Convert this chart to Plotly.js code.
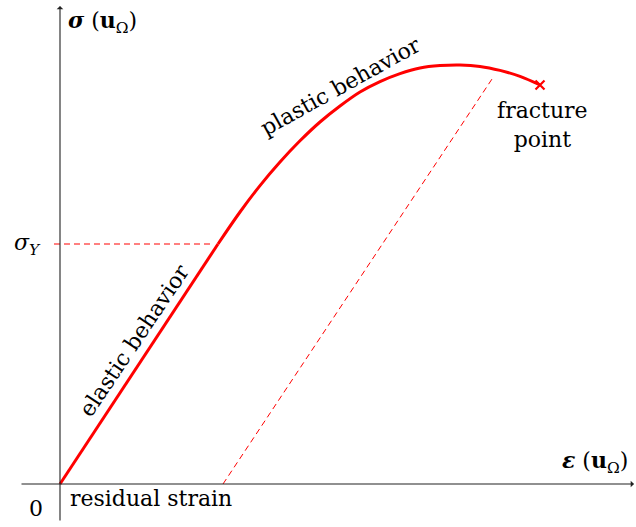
<!DOCTYPE html>
<html>
<head>
<meta charset="utf-8">
<script src="https://cdn.plot.ly/plotly-3.0.1.min.js"></script>
<style>
  html, body { margin: 0; padding: 0; background: #fff; }
  #chart { width: 636px; height: 527px; }
</style>
</head>
<body>
<div id="chart"></div>
<script>
// Stress–strain curve: linear elastic part up to the yield point,
// then a curved plastic part up to fracture.
const elasticStrain = [0, 3.95];
const elasticStress = [0, 6.0];

const plasticStrain = [3.95, 4.5, 5.0, 5.5, 6.0, 6.5, 7.0, 7.5, 8.0, 8.5, 9.0, 9.5, 10.0, 10.5, 11.0, 11.5, 12.0];
const plasticStress = [6.0, 6.80, 7.46, 8.05, 8.58, 9.05, 9.45, 9.80, 10.06, 10.26, 10.40, 10.46, 10.475, 10.44, 10.34, 10.19, 9.975];

const yieldStress = 6.0;
const yieldStrain = 3.85;        // end of the horizontal guide line
const residualStrain = 4.075;    // where unloading meets the strain axis
const unloadEnd = [10.85, 10.2]; // top of the unloading guide line

const fracture = [plasticStrain[plasticStrain.length - 1], plasticStress[plasticStress.length - 1]];

const xRange = [-1.5, 14.4];
const yRange = [-1.075, 12.1];
const axisStrainExtent = [-1.0, 14.35];
const axisStressExtent = [-0.95, 11.95];

const RED = '#ff0000';
const FONT = 'DejaVu Serif';

const traces = [
  { x: elasticStrain, y: elasticStress, mode: 'lines',
    line: { color: RED, width: 3 }, hoverinfo: 'skip' },
  { x: plasticStrain, y: plasticStress, mode: 'lines',
    line: { color: RED, width: 3, shape: 'spline', smoothing: 1 }, hoverinfo: 'skip' },
  // horizontal guide at the yield stress
  { x: [-0.15, yieldStrain], y: [yieldStress, yieldStress], mode: 'lines',
    line: { color: RED, width: 1, dash: '6px,4px' }, hoverinfo: 'skip' },
  // unloading path parallel to the elastic line
  { x: [residualStrain, unloadEnd[0]], y: [0, unloadEnd[1]], mode: 'lines',
    line: { color: RED, width: 1, dash: '6px,4px' }, hoverinfo: 'skip' },
  // fracture marker
  { x: [fracture[0]], y: [fracture[1]], mode: 'markers',
    marker: { symbol: 'x-thin', size: 9, line: { color: RED, width: 2.2 } }, hoverinfo: 'skip' }
];

const txt = (s, x, y, extra) => Object.assign({
  text: s, x: x, y: y, xref: 'x', yref: 'y', showarrow: false,
  font: { family: FONT, size: 22, color: '#000' }
}, extra || {});

const annotations = [
  // axes drawn as arrows
  { x: axisStrainExtent[1], y: 0, ax: axisStrainExtent[0], ay: 0, xref: 'x', yref: 'y', axref: 'x', ayref: 'y',
    showarrow: true, arrowhead: 1, arrowsize: 1, arrowwidth: 1.1, arrowcolor: '#222', text: '' },
  { x: 0, y: axisStressExtent[1], ax: 0, ay: axisStressExtent[0], xref: 'x', yref: 'y', axref: 'x', ayref: 'y',
    showarrow: true, arrowhead: 1, arrowsize: 1, arrowwidth: 1.1, arrowcolor: '#222', text: '' },

  txt('<b><i>σ</i></b> (<b>u</b><sub>Ω</sub>)', 0.15, 11.55, { xanchor: 'left' }),
  txt('<b><i>ε</i></b> (<b>u</b><sub>Ω</sub>)', 14.25, 0.55, { xanchor: 'right' }),
  txt('<i>σ</i><sub><i>Y</i></sub>', -0.825, 6.0),
  txt('0', -0.6, -0.6),
  txt('residual strain', 0.2, -0.35, { xanchor: 'left' }),
  txt('fracture<br>point', 12.05, 8.98, { align: 'center' }),
  txt('plastic behavior', 7.0, 9.95, { textangle: -29 }),
  txt('elastic behavior', 1.85, 3.6, { textangle: -56 })
];

const layout = {
  width: 636, height: 527,
  margin: { l: 0, r: 0, t: 0, b: 0 },
  paper_bgcolor: '#fff', plot_bgcolor: '#fff',
  showlegend: false,
  xaxis: { range: xRange, visible: false, fixedrange: true },
  yaxis: { range: yRange, visible: false, fixedrange: true },
  annotations: annotations
};

Plotly.newPlot('chart', traces, layout, { staticPlot: true, displayModeBar: false });
</script>
</body>
</html>
